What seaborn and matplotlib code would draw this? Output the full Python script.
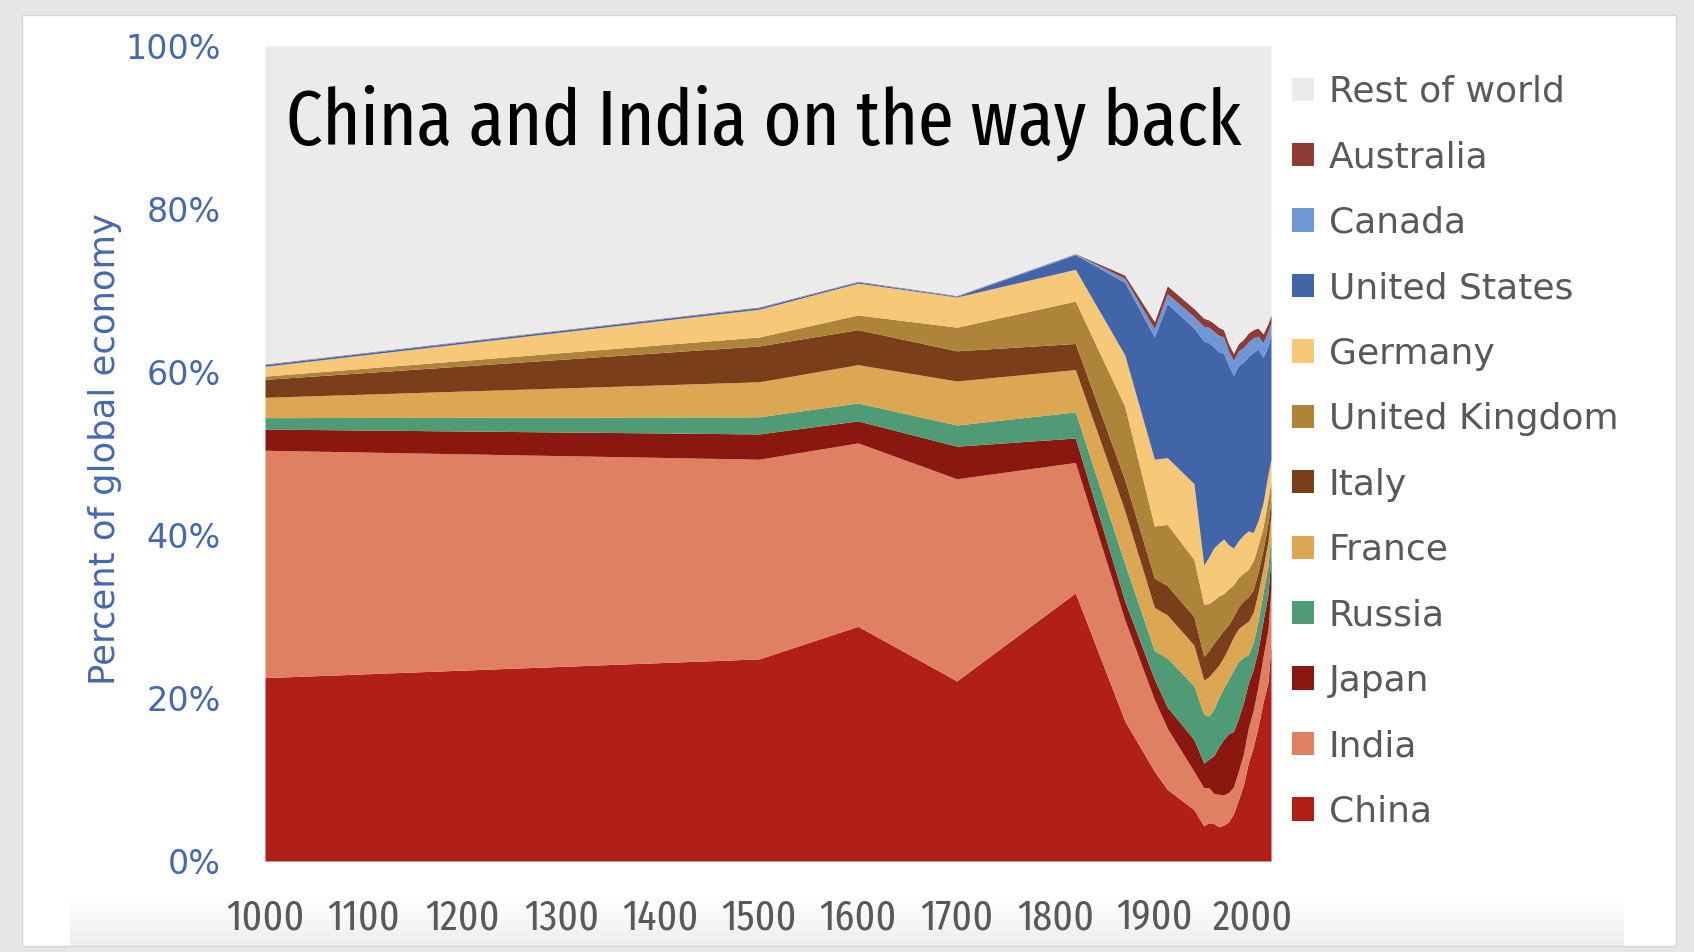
import os
import numpy as np
import pandas as pd
import matplotlib
matplotlib.use("Agg")
import matplotlib.pyplot as plt
from matplotlib import font_manager
from matplotlib.colors import LinearSegmentedColormap
from matplotlib.font_manager import FontProperties
from matplotlib.patches import Patch, Rectangle
import seaborn as sns

# Share of global economy (%)
years = [1000, 1500, 1600, 1700, 1820, 1870, 1900, 1913, 1940, 1950, 1955, 1960,
         1965, 1970, 1975, 1980, 1985, 1990, 1995, 2000, 2005, 2010, 2015, 2018]

china = [22.5, 24.8, 28.8, 22.1, 32.9, 17.2, 11.0, 8.8, 6.3, 4.3, 4.7, 4.6,
         4.2, 4.4, 4.8, 5.8, 7.5, 9.3, 12.0, 14.0, 16.5, 19.5, 22.0, 26.5]
india = [27.9, 24.5, 22.5, 24.8, 16.0, 12.4, 8.8, 7.5, 4.7, 4.7, 4.3, 3.7,
         4.0, 3.7, 3.6, 3.3, 3.5, 3.8, 4.3, 4.5, 5.0, 5.6, 6.5, 7.0]
japan = [2.6, 3.1, 2.7, 4.0, 3.0, 2.3, 2.5, 2.6, 3.9, 3.0, 3.5, 4.6,
         5.8, 6.8, 7.2, 6.8, 6.5, 6.3, 5.5, 5.0, 4.5, 4.4, 4.3, 4.0]
russia = [1.4, 2.1, 2.2, 2.6, 3.2, 4.6, 3.5, 6.0, 6.6, 6.0, 5.3, 5.7,
          6.0, 6.3, 6.7, 7.5, 7.0, 5.6, 3.5, 3.3, 3.5, 3.5, 3.5, 2.7]
france = [2.5, 4.3, 4.7, 5.4, 5.2, 6.5, 5.3, 5.3, 5.0, 4.2, 4.8, 4.7,
          4.0, 3.8, 3.9, 4.1, 4.0, 4.0, 4.1, 3.7, 3.5, 3.0, 3.0, 2.3]
italy = [2.2, 4.4, 4.3, 3.7, 3.2, 3.8, 3.6, 3.6, 3.5, 2.9, 3.2, 3.4,
         3.5, 3.3, 2.8, 2.5, 2.7, 2.9, 3.0, 2.8, 2.5, 2.2, 2.2, 1.8]
uk = [0.4, 1.1, 1.8, 2.9, 5.2, 9.0, 6.4, 7.5, 7.0, 6.4, 5.8, 5.3,
      5.0, 4.5, 4.4, 3.9, 3.6, 3.4, 3.4, 3.5, 3.3, 2.8, 3.0, 2.2]
germany = [1.2, 3.4, 3.9, 3.7, 3.9, 6.3, 8.2, 8.2, 9.3, 4.8, 5.7, 6.4,
           6.5, 6.7, 5.4, 4.5, 4.5, 4.7, 4.7, 3.5, 3.0, 3.0, 3.0, 2.8]
usa = [0.2, 0.2, 0.15, 0.1, 1.8, 8.9, 15.0, 18.9, 19.1, 27.5, 26.3, 24.7,
       23.5, 22.8, 22.0, 21.2, 21.5, 21.2, 21.4, 22.1, 21.0, 17.8, 15.7, 15.3]
canada = [0.05, 0.05, 0.05, 0.05, 0.1, 0.5, 1.0, 1.2, 1.4, 1.8, 1.9, 1.9,
          2.0, 2.0, 1.8, 1.8, 1.8, 1.8, 1.8, 1.8, 1.6, 1.8, 1.8, 1.4]
australia = [0.05, 0.05, 0.05, 0.05, 0.05, 0.4, 0.9, 1.0, 1.0, 1.0, 0.9, 1.0,
             1.0, 0.9, 0.9, 0.9, 0.9, 1.0, 1.1, 1.0, 1.0, 1.1, 1.0, 1.0]

countries = ["China", "India", "Japan", "Russia", "France", "Italy",
             "United Kingdom", "Germany", "United States", "Canada", "Australia"]
colors = ["#B01F18", "#DF8063", "#8A1710", "#4F9B75", "#DDA653", "#7A3E1A",
          "#AE833A", "#F6C878", "#4264A8", "#6F97D6", "#8E3B36", "#EBEBEB"]

data = pd.DataFrame(dict(zip(countries, [china, india, japan, russia, france, italy,
                                          uk, germany, usa, canada, australia])),
                    index=years)
data["Rest of world"] = 100 - data.sum(axis=1)

sns.set_theme(style="white")
plt.rcParams["font.family"] = ["DejaVu Sans"]


def find_condensed():
    # look for any installed condensed / narrow sans face for the title
    best, best_rank = None, 99
    skip = ("bold", "italic", "oblique", "mono", "light", "thin", "medium",
            "black", "semibold", "extrabold", "heavy", "cjk")
    for f in font_manager.fontManager.ttflist:
        tag = (f.name + " " + os.path.basename(f.fname)).lower()
        if any(k in tag for k in skip):
            continue
        if "serif" in tag and "sans" not in tag:
            continue
        if "extracondensed" in tag or "extra condensed" in tag:
            rank = 0
        elif "narrow" in tag:
            rank = 1
        elif "semicondensed" in tag or "semi condensed" in tag:
            rank = 3
        elif "condensed" in tag:
            rank = 2
        else:
            continue
        if rank < best_rank:
            best, best_rank = f.fname, rank
    return best


cond = find_condensed()
title_fp = FontProperties(fname=cond) if cond else FontProperties(family="Liberation Sans")

W, H = 1694, 952
fig = plt.figure(figsize=(W / 100, H / 100), dpi=100)
fig.patch.set_facecolor("#E6E6E6")
fig.add_artist(Rectangle((22 / W, 1 - 946 / H), (1676 - 22) / W, (946 - 15) / H,
                         transform=fig.transFigure, facecolor="white",
                         edgecolor="#D6D6D6", lw=1, zorder=-2))
# faint shading under the axis labels
gax = fig.add_axes([70 / W, 1 - 946 / H, (1623 - 70) / W, 48 / H], zorder=-1)
shade = LinearSegmentedColormap.from_list("shade", ["#FFFFFF", "#EDEDED"])
gax.imshow(np.linspace(0, 1, 60).reshape(-1, 1), cmap=shade, aspect="auto")
gax.axis("off")

ax = fig.add_axes([265 / W, 1 - 861 / H, (1271 - 265) / W, (861 - 46) / H])
ax.set_facecolor("none")
ax.stackplot(data.index, data.T.values, colors=colors, linewidth=0)

ax.set_xlim(1000, 2018)
ax.set_ylim(0, 100)
ax.set_xticks(range(1000, 2001, 100))
ax.set_yticks(range(0, 101, 20))
ax.set_yticklabels([f"{v}%" for v in range(0, 101, 20)])
for s in ax.spines.values():
    s.set_visible(False)
ax.tick_params(axis="x", length=0, pad=26, labelcolor="#595959")
ax.tick_params(axis="y", length=0, pad=32, labelsize=24, labelcolor="#4668B0")
for lab in ax.get_xticklabels():
    if cond:
        lab.set_fontproperties(FontProperties(fname=cond, size=31))
    else:
        lab.set_fontproperties(FontProperties(family="Liberation Sans", size=25))

ax.set_ylabel("Percent of global economy", fontsize=25.5, color="#4668B0")
ax.yaxis.set_label_coords(-0.142, 0.505)

title = ax.text(0.021, 0.879, "China and India on the way back", transform=ax.transAxes,
                fontproperties=title_fp, fontsize=72, color="black",
                va="baseline", ha="left")
# fit the title to the width it takes in the reference (about 956 px)
fig.canvas.draw()
w = title.get_window_extent().width
title.set_fontsize(min(72, 72 * 956 / w))

handles = [Patch(facecolor=c, edgecolor="none") for c in colors][::-1]
labels = list(data.columns)[::-1]
fig.legend(handles, labels, loc="upper left", bbox_to_anchor=(1292 / W, 1 - 75 / H),
           frameon=False, fontsize=26, handlelength=0.62, handleheight=0.62,
           handletextpad=0.4, labelspacing=0.87, borderpad=0, borderaxespad=0,
           labelcolor="#595959")

fig.savefig("out.png", dpi=100)
